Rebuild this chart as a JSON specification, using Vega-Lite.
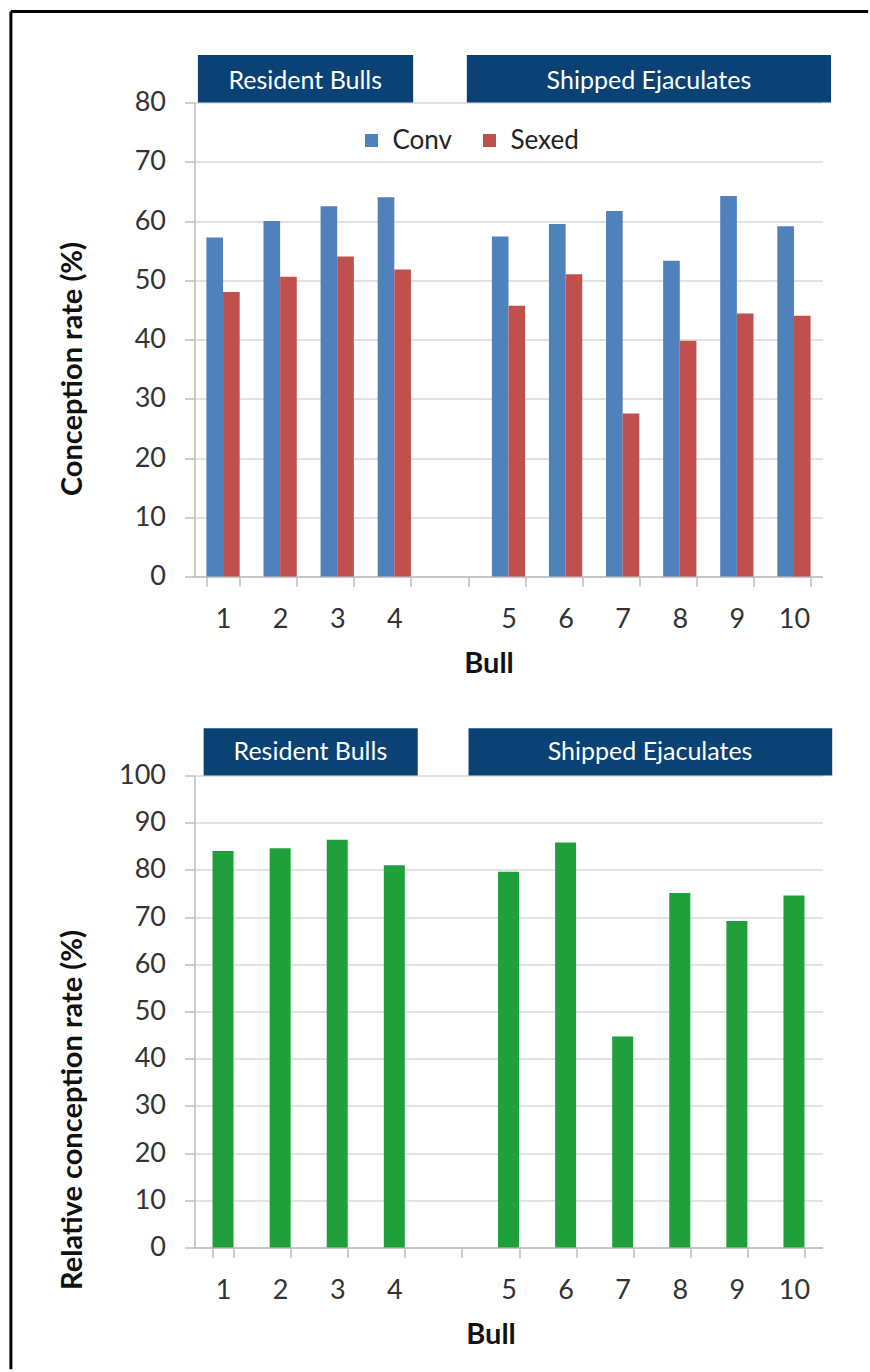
{
  "$schema": "https://vega.github.io/schema/vega-lite/v6.json",
  "background": "white",
  "padding": {"left": 8.5, "top": 9.5, "right": 0, "bottom": 0},
  "config": {
    "font": "Lato",
    "view": {"stroke": null},
    "axis": {
      "domainColor": "#bdbdbd",
      "domainWidth": 1.5,
      "tickColor": "#bdbdbd",
      "tickWidth": 1.5,
      "tickSize": 10,
      "gridColor": "#d9d9d9",
      "gridWidth": 1.5,
      "labelFont": "Lato",
      "labelFontSize": 27,
      "labelColor": "#333333",
      "titleFont": "Lato",
      "titleFontSize": 29,
      "titleFontWeight": "bold",
      "titleColor": "#111111"
    },
    "axisX": {"grid": false, "labelAngle": 0, "labelPadding": 20, "tickBand": "extent"},
    "axisY": {"labelPadding": 19}
  },
  "datasets": {
    "conception": [
      {"Bull": "1", "Semen": "Conv", "Rate": 57.2},
      {"Bull": "2", "Semen": "Conv", "Rate": 60.0},
      {"Bull": "3", "Semen": "Conv", "Rate": 62.5},
      {"Bull": "4", "Semen": "Conv", "Rate": 64.0},
      {"Bull": "5", "Semen": "Conv", "Rate": 57.4},
      {"Bull": "6", "Semen": "Conv", "Rate": 59.5},
      {"Bull": "7", "Semen": "Conv", "Rate": 61.7},
      {"Bull": "8", "Semen": "Conv", "Rate": 53.3},
      {"Bull": "9", "Semen": "Conv", "Rate": 64.2},
      {"Bull": "10", "Semen": "Conv", "Rate": 59.1},
      {"Bull": "1", "Semen": "Sexed", "Rate": 48.0},
      {"Bull": "2", "Semen": "Sexed", "Rate": 50.6},
      {"Bull": "3", "Semen": "Sexed", "Rate": 54.0},
      {"Bull": "4", "Semen": "Sexed", "Rate": 51.8},
      {"Bull": "5", "Semen": "Sexed", "Rate": 45.7},
      {"Bull": "6", "Semen": "Sexed", "Rate": 51.0},
      {"Bull": "7", "Semen": "Sexed", "Rate": 27.5},
      {"Bull": "8", "Semen": "Sexed", "Rate": 39.8},
      {"Bull": "9", "Semen": "Sexed", "Rate": 44.4},
      {"Bull": "10", "Semen": "Sexed", "Rate": 44.0}
    ],
    "relative": [
      {"Bull": "1", "Relative": 84.0},
      {"Bull": "2", "Relative": 84.6},
      {"Bull": "3", "Relative": 86.4},
      {"Bull": "4", "Relative": 81.0},
      {"Bull": "5", "Relative": 79.6},
      {"Bull": "6", "Relative": 85.8},
      {"Bull": "7", "Relative": 44.7},
      {"Bull": "8", "Relative": 75.1},
      {"Bull": "9", "Relative": 69.2},
      {"Bull": "10", "Relative": 74.6}
    ],
    "groupsTop": [
      {"Group": "Resident Bulls", "from": 0.06, "to": 3.83, "mid": 1.94},
      {"Group": "Shipped Ejaculates", "from": 4.77, "to": 11.15, "mid": 7.96}
    ],
    "groupsBottom": [
      {"Group": "Resident Bulls", "from": 0.16, "to": 3.91, "mid": 2.03},
      {"Group": "Shipped Ejaculates", "from": 4.8, "to": 11.17, "mid": 7.98}
    ]
  },
  "bounds": "flush",
  "spacing": 199,
  "resolve": {"legend": {"color": "independent"}},
  "vconcat": [
    {
      "width": 628,
      "height": 474,
      "resolve": {"scale": {"x": "independent"}},
      "layer": [
        {
          "data": {"name": "conception"},
          "mark": {"type": "bar"},
          "encoding": {
            "x": {
              "field": "Bull",
              "type": "nominal",
              "sort": null,
              "scale": {"domain": ["1", "2", "3", "4", "", "5", "6", "7", "8", "9", "10"], "paddingInner": 0.417, "paddingOuter": 0.2085},
              "axis": {"title": "Bull", "titleX": 294, "titleY": 96, "titleBaseline": "alphabetic", "titleAnchor": "middle"}
            },
            "xOffset": {"field": "Semen", "type": "nominal", "scale": {"domain": ["Conv", "Sexed"]}},
            "y": {
              "field": "Rate",
              "type": "quantitative",
              "scale": {"domain": [0, 80], "nice": false},
              "axis": {"values": [0, 10, 20, 30, 40, 50, 60, 70, 80], "title": "Conception rate (%)", "titleX": -122, "titleY": 266, "titleBaseline": "middle", "titleAlign": "center"}
            },
            "color": {
              "field": "Semen",
              "type": "nominal",
              "scale": {"domain": ["Conv", "Sexed"], "range": ["#4f81bd", "#c0504d"]},
              "legend": {
                "title": null,
                "orient": "none",
                "legendX": 164,
                "legendY": 25,
                "direction": "horizontal",
                "symbolType": "square",
                "symbolSize": 169,
                "symbolStrokeWidth": 0,
                "labelFont": "Lato",
                "labelFontSize": 26,
                "labelColor": "#222222",
                "labelOffset": 8,
                "columnPadding": 24,
                "padding": 0
              }
            }
          }
        },
        {
          "data": {"name": "groupsTop"},
          "mark": {"type": "rect", "color": "#0a4276"},
          "encoding": {
            "x": {"field": "from", "type": "quantitative", "scale": {"domain": [0, 11], "nice": false, "zero": false}, "axis": null},
            "x2": {"field": "to"},
            "y": {"datum": 80, "type": "quantitative"},
            "y2": {"datum": 88}
          }
        },
        {
          "data": {"name": "groupsTop"},
          "mark": {"type": "text", "color": "white", "fontSize": 25, "font": "Lato", "align": "center", "baseline": "middle"},
          "encoding": {
            "x": {"field": "mid", "type": "quantitative", "scale": {"domain": [0, 11], "nice": false, "zero": false}, "axis": null},
            "y": {"datum": 83.6, "type": "quantitative"},
            "text": {"field": "Group"}
          }
        },
        {
          "data": {"values": [{}]},
          "mark": {"type": "rule", "color": "black", "strokeWidth": 3},
          "encoding": {
            "x": {"datum": -3.216, "type": "quantitative", "scale": {"domain": [0, 11], "nice": false, "zero": false}, "axis": null},
            "x2": {"datum": 11.8},
            "y": {"datum": 95.36, "type": "quantitative"}
          }
        },
        {
          "data": {"values": [{}]},
          "mark": {"type": "rule", "color": "black", "strokeWidth": 3},
          "encoding": {
            "x": {"datum": -3.216, "type": "quantitative", "scale": {"domain": [0, 11], "nice": false, "zero": false}, "axis": null},
            "y": {"datum": 95.36, "type": "quantitative"},
            "y2": {"datum": -133.8}
          }
        }
      ]
    },
    {
      "width": 628,
      "height": 472,
      "resolve": {"scale": {"x": "independent"}},
      "layer": [
        {
          "data": {"name": "relative"},
          "mark": {"type": "bar", "color": "#20a03a"},
          "encoding": {
            "x": {
              "field": "Bull",
              "type": "nominal",
              "sort": null,
              "scale": {"domain": ["1", "2", "3", "4", "", "5", "6", "7", "8", "9", "10"], "paddingInner": 0.632, "paddingOuter": 0.316},
              "axis": {"title": "Bull", "titleX": 296, "titleY": 96, "titleBaseline": "alphabetic", "titleAnchor": "middle"}
            },
            "y": {
              "field": "Relative",
              "type": "quantitative",
              "scale": {"domain": [0, 100], "nice": false},
              "axis": {"values": [0, 10, 20, 30, 40, 50, 60, 70, 80, 90, 100], "title": "Relative conception rate (%)", "titleX": -122, "titleY": 334, "titleBaseline": "middle", "titleAlign": "center"}
            }
          }
        },
        {
          "data": {"name": "groupsBottom"},
          "mark": {"type": "rect", "color": "#0a4276"},
          "encoding": {
            "x": {"field": "from", "type": "quantitative", "scale": {"domain": [0, 11], "nice": false, "zero": false}, "axis": null},
            "x2": {"field": "to"},
            "y": {"datum": 100, "type": "quantitative"},
            "y2": {"datum": 110}
          }
        },
        {
          "data": {"name": "groupsBottom"},
          "mark": {"type": "text", "color": "white", "fontSize": 25, "font": "Lato", "align": "center", "baseline": "middle"},
          "encoding": {
            "x": {"field": "mid", "type": "quantitative", "scale": {"domain": [0, 11], "nice": false, "zero": false}, "axis": null},
            "y": {"datum": 105, "type": "quantitative"},
            "text": {"field": "Group"}
          }
        }
      ]
    }
  ]
}
